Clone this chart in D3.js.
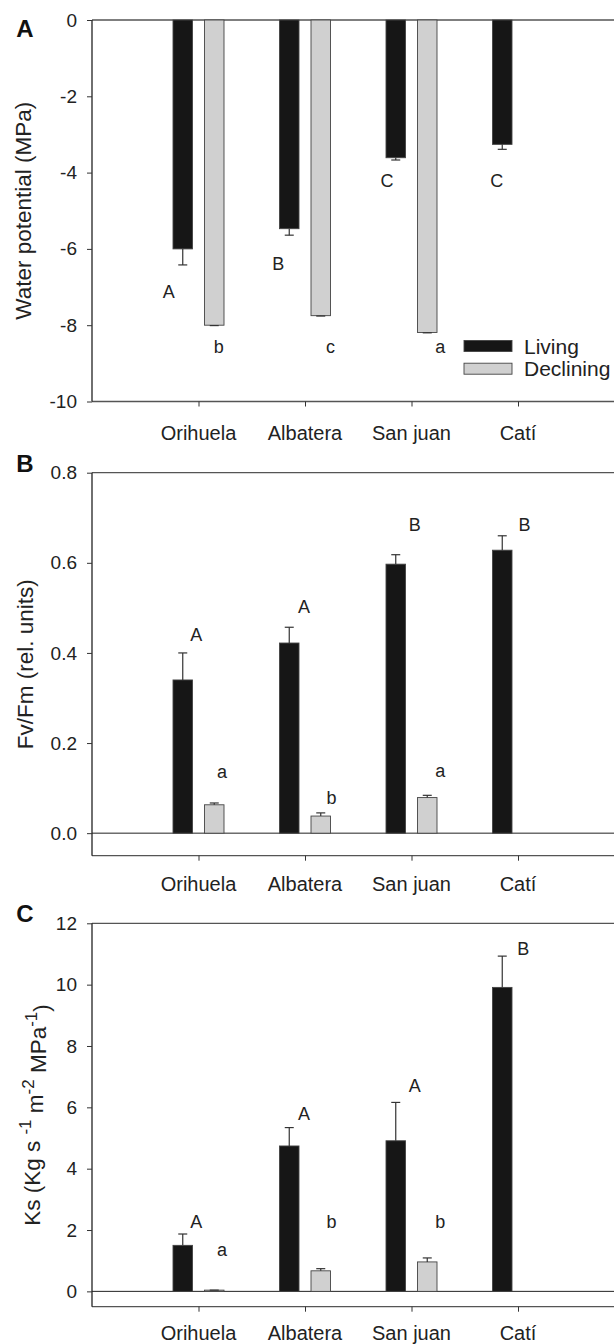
<!DOCTYPE html>
<meta charset="utf-8">
<style>
body { margin: 0; background: #fff; }
svg { font-family: Arial, "Liberation Sans", Helvetica, sans-serif; display: block; }
.tick text { font-size: 19px; fill: #222; }
.cat { font-size: 20px; fill: #222; }
.letter { font-size: 18px; fill: #222; }
.ytitle { font-size: 22.5px; fill: #222; }
.plabel { font-size: 24px; font-weight: bold; fill: #111; }
.legend text { font-size: 21px; fill: #222; }
</style>
<body>
<div id="chart"></div>
<script src="https://cdn.jsdelivr.net/npm/d3@7"></script>
<script>
// sites along the x axis
var sites = ["Orihuela", "Albatera", "San juan", "Catí"];

// A: water potential (MPa)
var wpLiving = [-6.0, -5.47, -3.61, -3.26];
var wpLivingErr = [0.42, 0.17, 0.06, 0.13];
var wpDeclining = [-8.0, -7.75, -8.19, null];
var wpDecliningErr = [0.01, 0.01, 0.01, null];
var wpLetters = [
  {t: "A", x: 0.72, y: -7.12}, {t: "b", x: 1.19, y: -8.56},
  {t: "B", x: 1.75, y: -6.39}, {t: "c", x: 2.24, y: -8.56},
  {t: "C", x: 2.77, y: -4.21}, {t: "a", x: 3.27, y: -8.56},
  {t: "C", x: 3.80, y: -4.21}
];

// B: Fv/Fm
var fvLiving = [0.34, 0.422, 0.597, 0.628];
var fvLivingErr = [0.06, 0.035, 0.021, 0.032];
var fvDeclining = [0.063, 0.038, 0.079, null];
var fvDecliningErr = [0.004, 0.007, 0.005, null];
var fvLetters = [
  {t: "A", x: 0.98, y: 0.44}, {t: "a", x: 1.22, y: 0.137},
  {t: "A", x: 1.99, y: 0.503}, {t: "b", x: 2.25, y: 0.08},
  {t: "B", x: 3.03, y: 0.686}, {t: "a", x: 3.27, y: 0.139},
  {t: "B", x: 4.06, y: 0.686}
];

// C: Ks
var ksLiving = [1.5, 4.74, 4.91, 9.91];
var ksLivingErr = [0.37, 0.6, 1.25, 1.02];
var ksDeclining = [0.04, 0.67, 0.96, null];
var ksDecliningErr = [0.0, 0.07, 0.13, null];
var ksLetters = [
  {t: "A", x: 0.98, y: 2.28}, {t: "a", x: 1.22, y: 1.38},
  {t: "A", x: 1.99, y: 5.81}, {t: "b", x: 2.25, y: 2.28},
  {t: "A", x: 3.03, y: 6.71}, {t: "b", x: 3.27, y: 2.28},
  {t: "B", x: 4.05, y: 11.19}
];

var W = 614, H = 1344;
var svg = d3.select("#chart").append("svg").attr("width", W).attr("height", H);

var x = d3.scaleLinear().domain([0, 5]).range([92, 624.5]);
var barW = 19.5, gap = 6;

function panel(o) {
  var y = d3.scaleLinear().domain(o.domain).range([o.bottom, o.top]);
  var g = svg.append("g");

  // frame lines (right side runs off the page)
  g.append("line").attr("x1", x(0)).attr("x2", W).attr("y1", o.top).attr("y2", o.top)
    .attr("stroke", "#555").attr("stroke-width", 1.3);
  g.append("line").attr("x1", x(0)).attr("x2", W).attr("y1", o.bottom).attr("y2", o.bottom)
    .attr("stroke", "#555").attr("stroke-width", 1.3);
  if (o.domain[0] < 0 && o.domain[1] > 0) {
    g.append("line").attr("x1", x(0)).attr("x2", W).attr("y1", y(0)).attr("y2", y(0))
      .attr("stroke", "#222").attr("stroke-width", 1);
  }

  var yAxis = g.append("g").attr("transform", "translate(" + x(0) + ",0)")
    .call(d3.axisLeft(y).tickValues(o.ticks).tickFormat(o.fmt).tickSize(5).tickPadding(10));
  yAxis.select(".domain").attr("d", "M0," + o.top + "V" + o.bottom)
    .attr("stroke", "#222").attr("stroke-width", 1.3);
  yAxis.selectAll(".tick line").attr("stroke", "#333");

  var xAxis = g.append("g").attr("transform", "translate(0," + o.bottom + ")")
    .call(d3.axisBottom(x).tickValues([1, 2, 3, 4]).tickFormat("").tickSize(5));
  xAxis.select(".domain").remove();
  xAxis.selectAll(".tick line").attr("stroke", "#333");

  g.selectAll(".cat").data(sites).enter().append("text")
    .attr("class", "cat")
    .attr("x", function(d, i) { return x(i + 1); })
    .attr("y", o.bottom + o.labelGap)
    .attr("text-anchor", "middle")
    .text(function(d) { return d; });

  function bars(vals, errs, fill, offset) {
    var d = vals.map(function(v, i) { return {i: i, v: v, e: errs[i]}; })
      .filter(function(d) { return d.v !== null; });
    g.selectAll(null).data(d).enter().append("rect")
      .attr("x", function(d) { return x(d.i + 1) + offset; })
      .attr("width", barW)
      .attr("y", function(d) { return Math.min(y(d.v), y(0)); })
      .attr("height", function(d) { return Math.abs(y(d.v) - y(0)); })
      .attr("fill", fill).attr("stroke", "#444").attr("stroke-width", 0.9);
    var sign = function(d) { return d.v < 0 ? -1 : 1; };
    var cx = function(d) { return x(d.i + 1) + offset + barW / 2; };
    g.selectAll(null).data(d).enter().append("line")
      .attr("x1", cx).attr("x2", cx)
      .attr("y1", function(d) { return y(d.v); })
      .attr("y2", function(d) { return y(d.v + sign(d) * d.e); })
      .attr("stroke", "#333").attr("stroke-width", 1.2);
    g.selectAll(null).data(d).enter().append("line")
      .attr("x1", function(d) { return cx(d) - 4.5; })
      .attr("x2", function(d) { return cx(d) + 4.5; })
      .attr("y1", function(d) { return y(d.v + sign(d) * d.e); })
      .attr("y2", function(d) { return y(d.v + sign(d) * d.e); })
      .attr("stroke", "#333").attr("stroke-width", 1.2);
  }
  bars(o.living, o.livingErr, "#161616", -gap - barW);
  bars(o.declining, o.decliningErr, "#d0d0d0", gap);

  g.selectAll(".letter").data(o.letters).enter().append("text")
    .attr("class", "letter")
    .attr("x", function(d) { return x(d.x); })
    .attr("y", function(d) { return y(d.y); })
    .attr("dy", "0.36em")
    .attr("text-anchor", "middle")
    .text(function(d) { return d.t; });

  g.append("text").attr("class", "plabel")
    .attr("x", 25).attr("y", o.plabelY).attr("dy", "0.36em")
    .attr("text-anchor", "middle").text(o.plabel);

  var t = g.append("text").attr("class", "ytitle")
    .attr("transform", "translate(" + o.titleX + "," + (o.top + o.bottom) / 2 + ") rotate(-90)")
    .attr("text-anchor", "middle").attr("dy", "0.36em");
  o.title(t);
  return y;
}

// plain hyphen minus like the original figure
var fmtInt = function(d) { return String(d); };
var fmt1 = function(d) { return d.toFixed(1); };

panel({
  domain: [-10, 0], top: 20, bottom: 401.5, ticks: [-10, -8, -6, -4, -2, 0],
  fmt: fmtInt, labelGap: 38,
  living: wpLiving, livingErr: wpLivingErr, declining: wpDeclining, decliningErr: wpDecliningErr,
  letters: wpLetters, plabel: "A", plabelY: 28, titleX: 23,
  title: function(t) { t.text("Water potential (MPa)"); }
});

panel({
  domain: [-0.05, 0.8], top: 472.7, bottom: 855.7, ticks: [0, 0.2, 0.4, 0.6, 0.8],
  fmt: fmt1, labelGap: 35,
  living: fvLiving, livingErr: fvLivingErr, declining: fvDeclining, decliningErr: fvDecliningErr,
  letters: fvLetters, plabel: "B", plabelY: 463, titleX: 25,
  title: function(t) { t.text("Fv/Fm (rel. units)"); }
});

panel({
  domain: [-0.5, 12], top: 923.3, bottom: 1306.7, ticks: [0, 2, 4, 6, 8, 10, 12],
  fmt: fmtInt, labelGap: 33,
  living: ksLiving, livingErr: ksLivingErr, declining: ksDeclining, decliningErr: ksDecliningErr,
  letters: ksLetters, plabel: "C", plabelY: 913, titleX: 32,
  title: function(t) {
    t.append("tspan").text("Ks (Kg s ");
    t.append("tspan").attr("dy", "-0.55em").attr("font-size", "17px").text("-1");
    t.append("tspan").attr("dy", "0.55em").text(" m");
    t.append("tspan").attr("dy", "-0.55em").attr("font-size", "17px").text("-2");
    t.append("tspan").attr("dy", "0.55em").text(" MPa");
    t.append("tspan").attr("dy", "-0.55em").attr("font-size", "17px").text("-1");
    t.append("tspan").attr("dy", "0.55em").text(")");
  }
});

// legend in panel A
var legend = svg.append("g").attr("class", "legend");
var legItems = [{name: "Living", fill: "#161616", y: 346}, {name: "Declining", fill: "#d0d0d0", y: 368.7}];
legItems.forEach(function(d) {
  legend.append("rect").attr("x", 464).attr("y", d.y - 5.5).attr("width", 48).attr("height", 11)
    .attr("fill", d.fill).attr("stroke", "#444").attr("stroke-width", 0.9);
  legend.append("text").attr("x", 524).attr("y", d.y).attr("dy", "0.36em").text(d.name);
});
</script>
</body>
